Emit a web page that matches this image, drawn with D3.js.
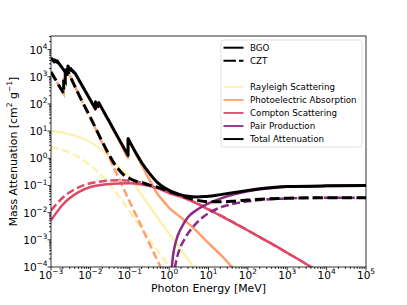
<!DOCTYPE html>
<html>
<head>
<meta charset="utf-8">
<script src="https://cdn.jsdelivr.net/npm/d3@7"></script>
<style>
  body { margin: 0; background: #fff; }
  svg { font-family: "DejaVu Sans", sans-serif; }
</style>
</head>
<body>
<script>
// energies in MeV, mass attenuation in cm^2/g
// repeated energies are absorption edges
const bgoRayleigh = [[1e-3, 10.2], [2e-3, 8.8], [5e-3, 6.1], [1e-2, 3.9], [2e-2, 2.0], [5e-2, 0.5], [0.1, 0.2],
    [0.2, 0.045], [0.5, 0.0068], [1, 0.0017], [2, 4.3e-4], [5, 6.9e-5], [10, 1.7e-5]];
const cztRayleigh = [[1e-3, 2.6], [2e-3, 2.0], [5e-3, 1.1], [1e-2, 0.55], [2e-2, 0.22], [5e-2, 0.045], [0.1, 0.011],
    [0.2, 0.0025], [0.5, 4.1e-4], [1, 1.05e-4], [2, 2.6e-5]];

const bgoPhoto = [[1e-3, 4880], [1.22e-3, 3480], [1.22e-3, 4180], [1.41e-3, 3430], [1.41e-3, 3880], [2.58e-3, 1190],
    [2.58e-3, 1890], [2.69e-3, 1740], [2.69e-3, 2490], [3.18e-3, 1690], [3.18e-3, 1990], [3.7e-3, 1490], [3.7e-3, 1590],
    [4e-3, 1340], [4e-3, 1410], [6e-3, 500], [1e-2, 135], [1.34e-2, 63], [1.34e-2, 116], [1.57e-2, 77], [1.57e-2, 96],
    [1.64e-2, 86], [1.64e-2, 108], [2e-2, 63], [3e-2, 22], [5e-2, 5.4], [9.05e-2, 1.0], [9.05e-2, 5.0], [0.1, 3.8],
    [0.15, 1.25], [0.2, 0.57], [0.3, 0.19], [0.5, 0.05], [0.8, 0.022], [1, 0.015], [1.5, 0.0092], [2, 0.0066],
    [3, 0.0041], [5, 0.0021], [10, 7.5e-4], [20, 2.9e-4], [40, 1.0e-4], [60, 6e-5]];
const cztPhoto = [[1e-3, 1470], [2.1e-3, 235], [2.1e-3, 890], [2.3e-3, 700], [2.3e-3, 1680], [2.5e-3, 1330],
    [2.5e-3, 1980], [5e-3, 228], [1e-2, 31], [1.5e-2, 9.0], [2e-2, 3.7], [3e-2, 1.1], [4e-2, 0.42], [5e-2, 0.22],
    [7e-2, 0.075], [0.1, 0.025], [0.2, 3e-3], [0.3, 8.5e-4], [0.5, 1.8e-4], [0.7, 6.5e-5]];

const bgoCompton = [[1e-3, 0.0052], [2e-3, 0.02], [5e-3, 0.057], [1e-2, 0.088], [2e-2, 0.106], [5e-2, 0.118],
    [0.1, 0.12], [0.2, 0.108], [0.5, 0.08], [1, 0.053], [2, 0.038], [5, 0.022], [10, 0.013], [20, 0.0078],
    [50, 0.0038], [100, 0.0022], [200, 0.00125], [500, 6.0e-4], [1000, 3.3e-4], [2000, 1.85e-4], [5000, 8.2e-5]];
const cztCompton = [[1e-3, 0.012], [2e-3, 0.036], [5e-3, 0.085], [1e-2, 0.12], [2e-2, 0.142], [5e-2, 0.155],
    [0.1, 0.15], [0.2, 0.125], [0.5, 0.085], [1, 0.058], [2, 0.04], [5, 0.0225], [10, 0.0135], [20, 0.008],
    [50, 0.0039], [100, 0.00222], [200, 0.00126], [500, 6.0e-4], [1000, 3.3e-4], [2000, 1.85e-4], [5000, 8.2e-5]];

const bgoPair = [[1.03, 1e-7], [1.1, 2.2e-5], [1.2, 1.4e-4], [1.5, 9e-4], [2, 0.0026], [3, 0.0068], [5, 0.0125],
    [10, 0.022], [20, 0.033], [50, 0.049], [100, 0.061], [200, 0.072], [500, 0.083], [1000, 0.089],
    [1e4, 0.095], [1e5, 0.097]];
const cztPair = [[1.03, 1e-7], [1.1, 3e-6], [1.2, 1.5e-5], [1.4, 9e-5], [1.7, 3.2e-4], [2, 6e-4], [2.5, 1.1e-3],
    [3, 1.7e-3], [4, 2.9e-3], [5, 4.2e-3], [10, 9.5e-3], [20, 0.0155], [50, 0.022], [100, 0.026], [200, 0.029],
    [500, 0.032], [1000, 0.0335], [1e4, 0.0352], [1e5, 0.0354]];

const bgoTotal = [[1e-3, 4900], [1.22e-3, 3500], [1.22e-3, 4200], [1.41e-3, 3450], [1.41e-3, 3900], [2.58e-3, 1200],
    [2.58e-3, 1900], [2.69e-3, 1750], [2.69e-3, 2500], [3.18e-3, 1700], [3.18e-3, 2000], [3.7e-3, 1500],
    [3.7e-3, 1600], [4e-3, 1350], [4e-3, 1420], [6e-3, 508], [1e-2, 140], [1.34e-2, 66], [1.34e-2, 120],
    [1.57e-2, 80], [1.57e-2, 100], [1.64e-2, 89], [1.64e-2, 112], [2e-2, 66], [3e-2, 23], [5e-2, 6.0],
    [9.05e-2, 1.28], [9.05e-2, 5.4], [0.1, 4.1], [0.15, 1.4], [0.2, 0.7], [0.3, 0.31], [0.5, 0.13], [0.8, 0.078],
    [1, 0.066], [1.5, 0.052], [2, 0.045], [3, 0.04], [5, 0.038], [8, 0.039], [10, 0.04], [20, 0.046], [50, 0.056],
    [100, 0.066], [200, 0.076], [500, 0.086], [1000, 0.091], [1e4, 0.097], [1e5, 0.099]];
const cztTotal = [[1e-3, 1500], [2.1e-3, 240], [2.1e-3, 900], [2.3e-3, 710], [2.3e-3, 1700], [2.5e-3, 1350],
    [2.5e-3, 2000], [5e-3, 230], [1e-2, 32], [1.5e-2, 9.6], [2e-2, 4.1], [3e-2, 1.35], [4e-2, 0.65], [5e-2, 0.42],
    [7e-2, 0.245], [0.1, 0.18], [0.15, 0.14], [0.2, 0.13], [0.3, 0.105], [0.5, 0.087], [1, 0.06], [2, 0.043],
    [3, 0.035], [5, 0.029], [8, 0.0255], [10, 0.025], [20, 0.025], [50, 0.027], [100, 0.029], [300, 0.032],
    [1000, 0.034], [1e4, 0.0353], [1e5, 0.0355]];

const xTickExps = [-3, -2, -1, 0, 1, 2, 3, 4, 5];
const yTickExps = [-4, -3, -2, -1, 0, 1, 2, 3, 4];

const components = [
    { name: 'Rayleigh Scattering', color: '#fcf1b0', bgo: bgoRayleigh, czt: cztRayleigh },
    { name: 'Photoelectric Absorption', color: '#fe9f6d', bgo: bgoPhoto, czt: cztPhoto },
    { name: 'Compton Scattering', color: '#de4968', bgo: bgoCompton, czt: cztCompton },
    { name: 'Pair Production', color: '#8c2981', bgo: bgoPair, czt: cztPair },
    { name: 'Total Attenuation', color: '#000000', bgo: bgoTotal, czt: cztTotal }
];

const width = 407, height = 305;
const margin = { top: 36, right: 41, bottom: 38, left: 51 };

const svg = d3.select('body').append('svg')
    .attr('width', width)
    .attr('height', height);

const x = d3.scaleLog()
    .domain([1e-3, 1e5])
    .range([margin.left, width - margin.right]);
const y = d3.scaleLog()
    .domain([1e-4, Math.pow(10, 4.5)])
    .range([height - margin.bottom, margin.top]);

svg.append('clipPath').attr('id', 'plotClip')
    .append('rect')
    .attr('x', margin.left).attr('y', margin.top)
    .attr('width', width - margin.left - margin.right)
    .attr('height', height - margin.top - margin.bottom);

// split at edges so the monotone curve never sees two points with the same x
const line = d3.line().x(d => x(d[0])).y(d => y(d[1])).curve(d3.curveMonotoneX);
function edgePath(points) {
    const segs = [];
    let cur = [points[0]];
    for (let i = 1; i < points.length; i++) {
        if (points[i][0] === points[i - 1][0]) {
            segs.push(cur);
            cur = [points[i]];
        } else {
            cur.push(points[i]);
        }
    }
    segs.push(cur);
    return segs.map((s, i) => {
        const p = line(s);
        return i ? 'L' + p.slice(1) : p;
    }).join('');
}

const plot = svg.append('g').attr('clip-path', 'url(#plotClip)');

components.forEach(c => {
    const isTotal = c.name === 'Total Attenuation';
    const lw = isTotal ? 3 : 2.5;
    plot.append('path')
        .attr('d', edgePath(c.bgo))
        .attr('fill', 'none')
        .attr('stroke', c.color)
        .attr('stroke-width', lw)
        .attr('stroke-linejoin', 'round');
    plot.append('path')
        .attr('d', edgePath(c.czt))
        .attr('fill', 'none')
        .attr('stroke', c.color)
        .attr('stroke-width', lw)
        .attr('stroke-dasharray', isTotal ? '10,4.5' : '8,3.5');
});

// ticks
const axisG = svg.append('g').attr('stroke', '#000').attr('stroke-width', 0.8);
const minors = [2, 3, 4, 5, 6, 7, 8, 9];
xTickExps.forEach(e => {
    const px = x(Math.pow(10, e));
    axisG.append('line').attr('x1', px).attr('x2', px)
        .attr('y1', height - margin.bottom).attr('y2', height - margin.bottom + 3.5);
    if (e < 5) minors.forEach(m => {
        const mx = x(m * Math.pow(10, e));
        axisG.append('line').attr('x1', mx).attr('x2', mx)
            .attr('y1', height - margin.bottom).attr('y2', height - margin.bottom + 2);
    });
});
yTickExps.forEach(e => {
    const py = y(Math.pow(10, e));
    axisG.append('line').attr('y1', py).attr('y2', py)
        .attr('x1', margin.left).attr('x2', margin.left - 3.5);
    minors.forEach(m => {
        const v = m * Math.pow(10, e);
        if (v > y.domain()[1]) return;
        const my = y(v);
        axisG.append('line').attr('y1', my).attr('y2', my)
            .attr('x1', margin.left).attr('x2', margin.left - 2);
    });
});

function powerLabel(sel, e) {
    sel.append('tspan').text('10');
    sel.append('tspan')
        .attr('font-size', 7.4)
        .attr('dy', -4.6)
        .text(e < 0 ? '\u2212' + (-e) : String(e));
}

xTickExps.forEach(e => {
    svg.append('text')
        .attr('x', x(Math.pow(10, e)))
        .attr('y', height - margin.bottom + 12)
        .attr('text-anchor', 'middle')
        .attr('font-size', 10.5)
        .call(powerLabel, e);
});
yTickExps.forEach(e => {
    svg.append('text')
        .attr('x', margin.left - 3.5)
        .attr('y', y(Math.pow(10, e)) + 4)
        .attr('text-anchor', 'end')
        .attr('font-size', 10.5)
        .call(powerLabel, e);
});

// frame
svg.append('rect')
    .attr('x', margin.left).attr('y', margin.top)
    .attr('width', width - margin.left - margin.right)
    .attr('height', height - margin.top - margin.bottom)
    .attr('fill', 'none')
    .attr('stroke', '#000')
    .attr('stroke-width', 0.8);

// axis labels
svg.append('text')
    .attr('x', (margin.left + width - margin.right) / 2)
    .attr('y', 292)
    .attr('text-anchor', 'middle')
    .attr('font-size', 10.9)
    .text('Photon Energy [MeV]');

const yl = svg.append('text')
    .attr('transform', 'translate(16.5,' + ((margin.top + height - margin.bottom) / 2) + ') rotate(-90)')
    .attr('text-anchor', 'middle')
    .attr('font-size', 10.9);
yl.append('tspan').text('Mass Attenuation [cm');
yl.append('tspan').attr('font-size', 7.6).attr('dy', -4.5).text('2');
yl.append('tspan').attr('dy', 4.5).text(' g');
yl.append('tspan').attr('font-size', 7.6).attr('dy', -4.5).text('\u22121');
yl.append('tspan').attr('dy', 4.5).text(']');

// legend
const legend = svg.append('g');
legend.append('rect')
    .attr('x', 221).attr('y', 40)
    .attr('width', 141).attr('height', 107)
    .attr('rx', 2.5)
    .attr('fill', '#fff')
    .attr('fill-opacity', 0.8)
    .attr('stroke', '#d9d9d9')
    .attr('stroke-width', 0.8);

const legendItems = [
    { label: 'BGO', color: '#000', dash: null },
    { label: 'CZT', color: '#000', dash: '12.5,3' },
    { label: '', color: null, dash: null }
].concat(components.map(c => ({ label: c.name, color: c.color, dash: null })));

legendItems.forEach((d, i) => {
    const ly = 47.7 + i * 13.05;
    if (d.color) {
        legend.append('line')
            .attr('x1', 223.5).attr('x2', 243.5)
            .attr('y1', ly).attr('y2', ly)
            .attr('stroke', d.color)
            .attr('stroke-width', d.color === '#000' || d.color === '#000000' ? 2 : 1.8)
            .attr('stroke-dasharray', d.dash);
    }
    legend.append('text')
        .attr('x', 250)
        .attr('y', ly + 3.1)
        .attr('font-size', 8.7)
        .text(d.label);
});
</script>
</body>
</html>
